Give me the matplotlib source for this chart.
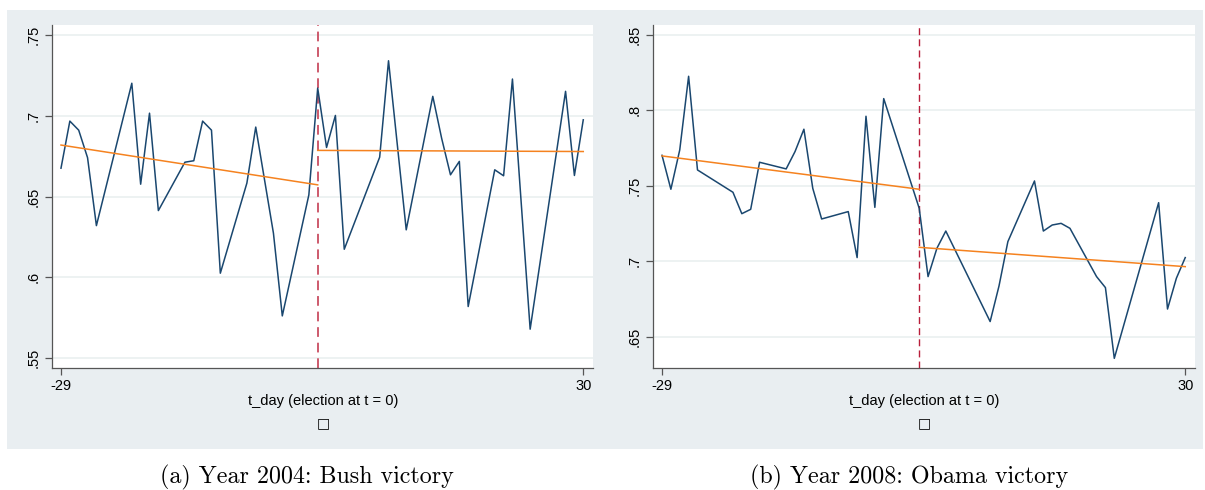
import numpy as np
import matplotlib
matplotlib.use("Agg")
import matplotlib.pyplot as plt
from matplotlib.patches import Rectangle

# share of ... per day around the election
days04 = [-29, -28, -27, -26, -25, -21, -20, -19, -18, -15, -14, -13, -12, -11, -8, -7, -5, -4, -1, 0,
          1, 2, 3, 7, 8, 10, 13, 14, 15, 16, 17, 20, 21, 22, 24, 28, 29, 30]
vals04 = [0.6675, 0.6966, 0.691, 0.674, 0.632, 0.720, 0.6576, 0.7015, 0.6413, 0.6712, 0.6721, 0.6966,
          0.691, 0.6026, 0.6583, 0.6929, 0.6273, 0.5762, 0.651, 0.717,
          0.6803, 0.7001, 0.6174, 0.6743, 0.7339, 0.6294, 0.7119, 0.686, 0.6634, 0.6717, 0.582,
          0.6665, 0.6628, 0.7226, 0.568, 0.715, 0.663, 0.6974]

days08 = [-29, -28, -27, -26, -25, -21, -20, -19, -18, -15, -14, -13, -12, -11, -8, -7, -6, -5, -4, 0,
          1, 2, 3, 8, 9, 10, 13, 14, 15, 16, 17, 20, 21, 22, 27, 28, 29, 30]
vals08 = [0.7702, 0.7477, 0.7738, 0.8226, 0.7605, 0.7457, 0.7315, 0.7344, 0.7656, 0.7612, 0.7727, 0.7875,
          0.7483, 0.728, 0.7329, 0.7024, 0.7961, 0.7357, 0.8078, 0.7351,
          0.6898, 0.7086, 0.720, 0.66, 0.6836, 0.713, 0.7532, 0.720, 0.724, 0.7251, 0.7218,
          0.6898, 0.6825, 0.6356, 0.7388, 0.6683, 0.6887, 0.7024]

# linear fit endpoints before / after the election
fit_pre_days = [-29, 0]
fit_post_days = [0, 30]
fit04_pre = [0.6818, 0.6572]
fit04_post = [0.6785, 0.6778]
fit08_pre = [0.7698, 0.7477]
fit08_post = [0.7092, 0.6964]

yticks04 = [0.55, 0.6, 0.65, 0.7, 0.75]
ylabels04 = [".55", ".6", ".65", ".7", ".75"]
yticks08 = [0.65, 0.7, 0.75, 0.8, 0.85]
ylabels08 = [".65", ".7", ".75", ".8", ".85"]
xticks = [-29, 30]
xlabel = "t_day (election at t = 0)"
captions = ["(a) Year 2004: Bush victory", "(b) Year 2008: Obama victory"]

navy = "#1a476f"
orange = "#f5821f"
bg = "#e9eef1"

W, H = 1205, 490
fig = plt.figure(figsize=(W / 100, H / 100), dpi=100)
fig.patch.set_facecolor("white")
fig.patches.append(Rectangle((7 / W, 1 - 449 / H), 1196 / W, 439 / H, transform=fig.transFigure,
                             facecolor=bg, edgecolor="none", zorder=-10))

panels = [
  (51.7, 593, days04, vals04, fit04_pre, fit04_post, (0.544, 0.756), yticks04, ylabels04, "#cd5a6c", 1.4),
  (652.7, 1195, days08, vals08, fit08_pre, fit08_post, (0.6292, 0.8566), yticks08, ylabels08, "#b81e3a", 1.0),
]

for i, (x0, x1, d, v, fpre, fpost, ylim, yt, yl, dcol, dlw) in enumerate(panels):
  ax = fig.add_axes([x0 / W, 1 - 368 / H, (x1 - x0) / W, 343 / H])
  ax.set_facecolor("white")
  ax.set_xlim(-30.05, 31.1)
  ax.set_ylim(*ylim)
  for y in yt:
    ax.axhline(y, color="#eaf0f0", lw=1.2, zorder=0)
  ax.plot(d, v, color=navy, lw=1.1, zorder=3)
  ax.plot(fit_pre_days, fpre, color=orange, lw=1.1, zorder=4)
  ax.plot(fit_post_days, fpost, color=orange, lw=1.1, zorder=4)
  ax.axvline(0, color=dcol, lw=dlw, ls=(0, (5, 3)), zorder=2)

  for s in ["top", "right"]:
    ax.spines[s].set_visible(False)
  for s in ["left", "bottom"]:
    ax.spines[s].set_color("#555555")
    ax.spines[s].set_linewidth(0.9)
  ax.set_xticks(xticks)
  ax.set_xticklabels([str(t) for t in xticks], family="Liberation Sans", fontsize=10.5)
  ax.set_yticks(yt)
  ax.set_yticklabels(yl, family="Liberation Sans", fontsize=10.5, rotation=90, va="center")
  ax.tick_params(length=5, width=0.9, color="#555555", pad=3)

  xc = (x0 + x1) / 2 / W
  fig.text(xc + 0.5 / W, 1 - 401 / H, xlabel, family="Liberation Sans", fontsize=10.5,
           ha="center", va="center")
  fig.text(xc + 0.5 / W, 1 - 423 / H, "\u25a1", family="DejaVu Sans", fontsize=10,
           ha="center", va="center")

fig.text(307 / W, 1 - 477 / H, captions[0], family="cmr10", fontsize=17.3, ha="center", va="center")
fig.text(909 / W, 1 - 477 / H, captions[1], family="cmr10", fontsize=17.3, ha="center", va="center")

fig.savefig("out.png", dpi=100, facecolor="white")
